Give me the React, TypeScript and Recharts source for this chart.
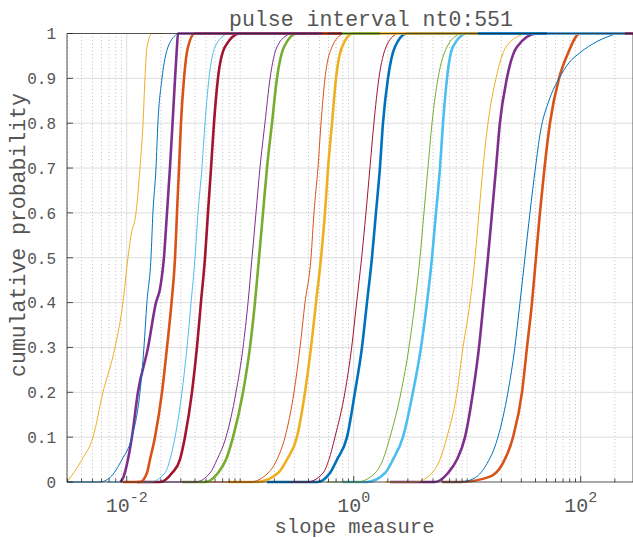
import React from 'react';
import { LineChart, Line, XAxis, YAxis, ReferenceLine } from 'recharts';

// x values: log10(slope measure); y: cumulative probability
const yellowThinA: [number, number][] = [[-2.526,0],[-2.394,0.05],[-2.297,0.1],[-2.209,0.2],[-2.103,0.3],[-2.033,0.4],[-1.989,0.5],[-1.962,0.55],[-1.918,0.6],[-1.883,0.7],[-1.856,0.8],[-1.839,0.9],[-1.821,0.97],[-1.777,1],[-1.68,1]];
const blueThinA: [number, number][] = [[-2.526,0],[-2.235,0],[-2.147,0.01],[-2.042,0.05],[-1.954,0.1],[-1.883,0.2],[-1.848,0.3],[-1.822,0.4],[-1.786,0.5],[-1.769,0.6],[-1.742,0.7],[-1.725,0.8],[-1.689,0.9],[-1.636,0.97],[-1.548,1]];
const purpleThickA: [number, number][] = [[-2.056,0],[-2.03,0.01],[-1.989,0.05],[-1.954,0.1],[-1.901,0.2],[-1.812,0.3],[-1.742,0.4],[-1.707,0.43],[-1.672,0.5],[-1.645,0.6],[-1.619,0.7],[-1.596,0.8],[-1.574,0.9],[-1.557,0.97],[-1.548,1],[-0.279,1]];
const orangeThickA: [number, number][] = [[-2.033,0],[-1.883,0],[-1.822,0.02],[-1.795,0.05],[-1.751,0.1],[-1.689,0.2],[-1.645,0.3],[-1.605,0.4],[-1.574,0.5],[-1.557,0.6],[-1.539,0.7],[-1.522,0.8],[-1.495,0.9],[-1.46,0.97],[-1.399,1],[-0.226,1]];
const lightBlueThinA: [number, number][] = [[-2.174,0],[-1.795,0],[-1.663,0.02],[-1.619,0.05],[-1.574,0.1],[-1.513,0.2],[-1.469,0.3],[-1.433,0.4],[-1.398,0.5],[-1.372,0.6],[-1.337,0.7],[-1.31,0.8],[-1.275,0.9],[-1.222,0.97],[-1.116,1]];
const darkRedThickA: [number, number][] = [[-1.909,0],[-1.707,0],[-1.601,0.02],[-1.531,0.05],[-1.487,0.1],[-1.425,0.2],[-1.381,0.3],[-1.346,0.4],[-1.31,0.5],[-1.284,0.6],[-1.257,0.7],[-1.231,0.8],[-1.196,0.9],[-1.134,0.97],[-1.002,1],[-0.103,1]];
const purpleThinA: [number, number][] = [[-1.733,0],[-1.398,0],[-1.266,0.02],[-1.204,0.05],[-1.125,0.1],[-1.037,0.2],[-0.975,0.3],[-0.931,0.4],[-0.896,0.5],[-0.861,0.6],[-0.826,0.7],[-0.782,0.8],[-0.737,0.9],[-0.676,0.97],[-0.561,1]];
const greenThickA: [number, number][] = [[-1.513,0],[-1.31,0],[-1.196,0.02],[-1.125,0.05],[-1.063,0.1],[-0.975,0.2],[-0.914,0.3],[-0.87,0.4],[-0.834,0.5],[-0.799,0.6],[-0.764,0.7],[-0.72,0.8],[-0.676,0.9],[-0.614,0.97],[-0.5,1],[0.231,1]];
const orangeThinA: [number, number][] = [[-1.292,0],[-0.914,0],[-0.755,0.02],[-0.676,0.05],[-0.605,0.1],[-0.526,0.2],[-0.473,0.3],[-0.429,0.4],[-0.376,0.5],[-0.35,0.6],[-0.315,0.7],[-0.288,0.8],[-0.253,0.9],[-0.191,0.97],[-0.094,1]];
const yellowThickA: [number, number][] = [[-1.107,0],[-0.852,0],[-0.667,0.02],[-0.588,0.05],[-0.5,0.1],[-0.429,0.2],[-0.376,0.3],[-0.332,0.4],[-0.288,0.5],[-0.253,0.6],[-0.226,0.7],[-0.191,0.8],[-0.156,0.9],[-0.103,0.97],[-0.006,1],[1.095,1]];
const darkRedThinA: [number, number][] = [[-0.561,0],[-0.411,0],[-0.27,0.02],[-0.218,0.05],[-0.165,0.1],[-0.077,0.2],[-0.018,0.3],[0.026,0.4],[0.07,0.5],[0.108,0.6],[0.143,0.7],[0.178,0.8],[0.222,0.9],[0.285,0.97],[0.381,1]];
const blueThickA: [number, number][] = [[-0.764,0],[-0.323,0],[-0.209,0.02],[-0.147,0.05],[-0.059,0.1],[0.011,0.2],[0.073,0.3],[0.117,0.4],[0.161,0.5],[0.196,0.6],[0.231,0.7],[0.258,0.8],[0.302,0.9],[0.363,0.97],[0.47,1],[1.703,1]];
const greenThinA: [number, number][] = [[-0.235,0],[0.029,0],[0.188,0.02],[0.258,0.05],[0.32,0.1],[0.417,0.2],[0.487,0.3],[0.54,0.4],[0.584,0.5],[0.619,0.6],[0.654,0.7],[0.69,0.8],[0.743,0.9],[0.822,0.97],[0.937,1]];
const lightBlueThickA: [number, number][] = [[-0.094,0],[0.117,0],[0.276,0.02],[0.346,0.05],[0.434,0.1],[0.522,0.2],[0.593,0.3],[0.646,0.4],[0.69,0.5],[0.725,0.6],[0.76,0.7],[0.787,0.8],[0.822,0.9],[0.874,0.97],[0.998,1],[2.39,1]];
const yellowThinB: [number, number][] = [[0.276,0],[0.54,0],[0.69,0.02],[0.76,0.05],[0.822,0.1],[0.91,0.2],[0.963,0.3],[1.025,0.4],[1.069,0.5],[1.104,0.6],[1.139,0.7],[1.183,0.8],[1.254,0.9],[1.342,0.97],[1.509,1]];
const purpleThickB: [number, number][] = [[0.32,0],[0.716,0],[0.831,0.02],[0.91,0.05],[0.981,0.1],[1.051,0.2],[1.104,0.3],[1.144,0.4],[1.183,0.5],[1.219,0.6],[1.254,0.7],[1.288,0.8],[1.35,0.9],[1.438,0.97],[1.615,1],[2.461,1]];
const blueThinB: [number, number][] = [[0.787,0],[0.937,0],[1.06,0.008],[1.16,0.035],[1.271,0.1],[1.359,0.2],[1.42,0.3],[1.465,0.4],[1.509,0.5],[1.553,0.6],[1.601,0.7],[1.645,0.78],[1.72,0.85],[1.81,0.9],[1.898,0.935],[1.993,0.957],[2.143,0.982],[2.319,1]];
const orangeThickB: [number, number][] = [[0.778,0],[0.937,0],[1.201,0.012],[1.315,0.042],[1.404,0.1],[1.483,0.2],[1.527,0.3],[1.571,0.4],[1.606,0.5],[1.641,0.6],[1.681,0.7],[1.729,0.8],[1.809,0.9],[1.888,0.956],[1.993,1],[2.461,1]];

const X_DOMAIN: [number, number] = [-2.526, 2.461];
const X_MAJOR = [-2, 0, 2];
const X_MAJOR_EXP = ['-2', '0', '2'];
const Y_TICKS = [0, 0.1, 0.2, 0.3, 0.4, 0.5, 0.6, 0.7, 0.8, 0.9, 1];
const Y_TICK_LABELS = ['0', '0.1', '0.2', '0.3', '0.4', '0.5', '0.6', '0.7', '0.8', '0.9', '1'];
const Y_GRID = [0.1, 0.2, 0.3, 0.4, 0.5, 0.6, 0.7, 0.8, 0.9];
const DECADES = [-3, -2, -1, 0, 1, 2];
const MANTISSAS = [1, 2, 3, 4, 5, 6, 7, 8, 9];

const TITLE = 'pulse interval nt0:551';
const X_LABEL = 'slope measure';
const Y_LABEL = 'cumulative probability';

const X_MINOR: number[] = [];
DECADES.forEach((d) =>
  MANTISSAS.forEach((m) => {
    const v = d + Math.log10(m);
    if (v >= X_DOMAIN[0] && v <= X_DOMAIN[1] && !X_MAJOR.includes(v)) X_MINOR.push(v);
  })
);
const X_ALL_TICKS = [...X_MAJOR, ...X_MINOR].sort((a, b) => a - b);

const BLUE = '#0072BD';
const ORANGE = '#D95319';
const YELLOW = '#EDB120';
const PURPLE = '#7E2F8E';
const GREEN = '#77AC30';
const LIGHTBLUE = '#4DBEEE';
const DARKRED = '#A2142F';
const THIN = 1;
const THICK = 2.6;

// drawn from right to left (later entries on top)
const SERIES = [
  { id: 'orangeThickB', pts: orangeThickB, color: ORANGE, w: THICK },
  { id: 'blueThinB', pts: blueThinB, color: BLUE, w: THIN },
  { id: 'purpleThickB', pts: purpleThickB, color: PURPLE, w: THICK },
  { id: 'yellowThinB', pts: yellowThinB, color: YELLOW, w: THIN },
  { id: 'lightBlueThickA', pts: lightBlueThickA, color: LIGHTBLUE, w: THICK },
  { id: 'greenThinA', pts: greenThinA, color: GREEN, w: THIN },
  { id: 'blueThickA', pts: blueThickA, color: BLUE, w: THICK },
  { id: 'darkRedThinA', pts: darkRedThinA, color: DARKRED, w: THIN },
  { id: 'yellowThickA', pts: yellowThickA, color: YELLOW, w: THICK },
  { id: 'orangeThinA', pts: orangeThinA, color: ORANGE, w: THIN },
  { id: 'greenThickA', pts: greenThickA, color: GREEN, w: THICK },
  { id: 'purpleThinA', pts: purpleThinA, color: PURPLE, w: THIN },
  { id: 'darkRedThickA', pts: darkRedThickA, color: DARKRED, w: THICK },
  { id: 'lightBlueThinA', pts: lightBlueThinA, color: LIGHTBLUE, w: THIN },
  { id: 'orangeThickA', pts: orangeThickA, color: ORANGE, w: THICK },
  { id: 'purpleThickA', pts: purpleThickA, color: PURPLE, w: THICK },
  { id: 'blueThinA', pts: blueThinA, color: BLUE, w: THIN },
  { id: 'yellowThinA', pts: yellowThinA, color: YELLOW, w: THIN },
];

const FONT = '"Liberation Mono", "DejaVu Sans Mono", monospace';
const TEXT = '#555555';
const AXIS = '#262626';
const GRID = '#dedede';
const MINOR_GRID = '#c2c2c2';

const W = 634;
const H = 538;
const MARGIN = { top: 32.5, right: 0, bottom: 55, left: 66 };

const BottomTick = (props: any) => {
  const { x, y, payload } = props;
  const idx = X_MAJOR.indexOf(payload.value);
  const major = idx >= 0;
  return (
    <g>
      <line x1={x} x2={x} y1={y} y2={y - (major ? 6 : 3.5)} stroke={AXIS} strokeWidth={0.8} />
      {major && (
        <text x={x} y={y + 30} textAnchor="middle" fontFamily={FONT} fill={TEXT}>
          <tspan fontSize={20}>10</tspan>
          <tspan fontSize={15} dy={-10}>{X_MAJOR_EXP[idx]}</tspan>
        </text>
      )}
    </g>
  );
};

const TopTick = (props: any) => {
  const { x, y, payload } = props;
  const major = X_MAJOR.includes(payload.value);
  return <line x1={x} x2={x} y1={y} y2={y + (major ? 6 : 3.5)} stroke={AXIS} strokeWidth={0.8} />;
};

const LeftTick = (props: any) => {
  const { x, y, payload } = props;
  const idx = Y_TICKS.indexOf(payload.value);
  return (
    <g>
      <line x1={x} x2={x + 6} y1={y} y2={y} stroke={AXIS} strokeWidth={0.8} />
      <text x={x - 11} y={y} dy="0.36em" textAnchor="end" fontFamily={FONT} fontSize={16} fill={TEXT}>
        {Y_TICK_LABELS[idx]}
      </text>
    </g>
  );
};

const RightTick = (props: any) => {
  const { x, y } = props;
  return <line x1={x} x2={x - 6} y1={y} y2={y} stroke={AXIS} strokeWidth={0.8} />;
};

export default function App() {
  return (
    <div style={{ position: 'absolute', left: 0, top: 0, width: 633, height: H, overflow: 'hidden', background: '#fff' }}>
      <LineChart width={W} height={H} margin={MARGIN}>
        {Y_GRID.map((v) => (
          <ReferenceLine key={'hy' + v} y={v} xAxisId="bottom" yAxisId="left" stroke={GRID} strokeWidth={1} />
        ))}
        {X_MAJOR.map((v) => (
          <ReferenceLine key={'vx' + v} x={v} xAxisId="bottom" yAxisId="left" stroke={GRID} strokeWidth={1} />
        ))}
        {X_MINOR.map((v) => (
          <ReferenceLine key={'mx' + v} x={v} xAxisId="bottom" yAxisId="left" stroke={MINOR_GRID} strokeWidth={1} strokeDasharray="1 2.5" />
        ))}
        <XAxis
          xAxisId="bottom"
          dataKey="x"
          type="number"
          domain={X_DOMAIN}
          ticks={X_ALL_TICKS}
          interval={0}
          height={1}
          tickSize={0}
          tickMargin={0}
          tickLine={false}
          tick={<BottomTick />}
          axisLine={{ stroke: AXIS, strokeWidth: 0.8 }}
        />
        <XAxis
          xAxisId="top"
          orientation="top"
          type="number"
          domain={X_DOMAIN}
          ticks={X_ALL_TICKS}
          interval={0}
          height={1}
          tickSize={0}
          tickMargin={0}
          tickLine={false}
          tick={<TopTick />}
          axisLine={{ stroke: AXIS, strokeWidth: 0.8 }}
        />
        <YAxis
          yAxisId="left"
          type="number"
          domain={[0, 1]}
          ticks={Y_TICKS}
          interval={0}
          width={1}
          tickSize={0}
          tickMargin={0}
          tickLine={false}
          tick={<LeftTick />}
          axisLine={{ stroke: AXIS, strokeWidth: 0.8 }}
        />
        <YAxis
          yAxisId="right"
          orientation="right"
          type="number"
          domain={[0, 1]}
          ticks={Y_TICKS}
          interval={0}
          width={1}
          tickSize={0}
          tickMargin={0}
          tickLine={false}
          tick={<RightTick />}
          axisLine={{ stroke: AXIS, strokeWidth: 0.8 }}
        />
        {SERIES.map((s) => (
          <Line
            key={s.id}
            xAxisId="bottom"
            yAxisId="left"
            data={s.pts.map(([x, p]) => ({ x, p }))}
            dataKey="p"
            type="monotone"
            stroke={s.color}
            strokeWidth={s.w}
            dot={false}
            activeDot={false}
            isAnimationActive={false}
          />
        ))}
        <text x={371} y={26} textAnchor="middle" fontFamily={FONT} fontSize={21.5} fill={TEXT}>
          {TITLE}
        </text>
        <text x={354.5} y={533} textAnchor="middle" fontFamily={FONT} fontSize={20.5} fill={TEXT}>
          {X_LABEL}
        </text>
        <text x={25} y={235} transform="rotate(-90 25 235)" textAnchor="middle" fontFamily={FONT} fontSize={21.5} fill={TEXT}>
          {Y_LABEL}
        </text>
      </LineChart>
    </div>
  );
}
